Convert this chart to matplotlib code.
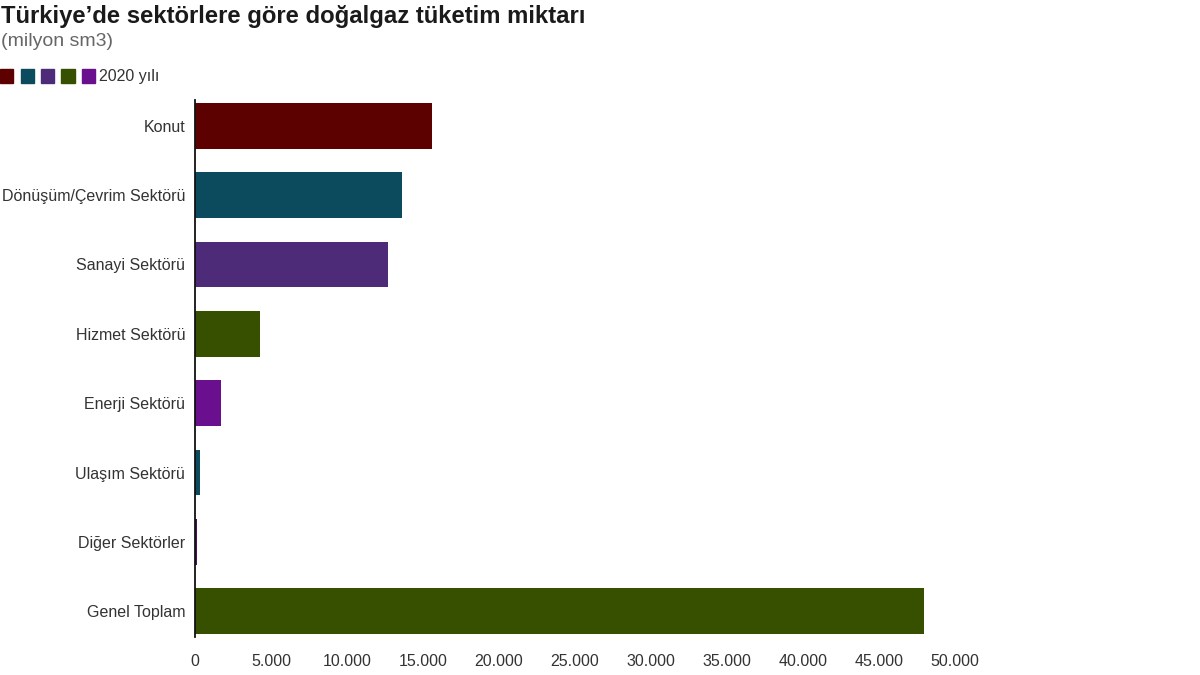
import matplotlib
matplotlib.use("Agg")
import matplotlib.pyplot as plt
from matplotlib.patches import Rectangle
from matplotlib.ticker import FuncFormatter

plt.rcParams['font.family'] = ['Liberation Sans', 'DejaVu Sans']

categories = ["Konut", "Dönüşüm/Çevrim Sektörü", "Sanayi Sektörü", "Hizmet Sektörü",
              "Enerji Sektörü", "Ulaşım Sektörü", "Diğer Sektörler", "Genel Toplam"]
values = [15560, 13620, 12700, 4300, 1690, 330, 160, 47960]
bar_colors = ["#5c0000", "#0c4a5e", "#4e2b78", "#365000", "#6a0f8e", "#0c4a5e", "#4a0e5e", "#365000"]
legend_colors = ["#5c0000", "#0c4a5e", "#4e2b78", "#365000", "#6a0f8e"]
legend_label = "2020 yılı"
xticks = [0, 5000, 10000, 15000, 20000, 25000, 30000, 35000, 40000, 45000, 50000]

W, H = 1200, 675
fig = plt.figure(figsize=(12, 6.75), dpi=100)
ax = fig.add_axes([195 / W, 1 - 637 / H, 760 / W, 537 / H])

ypos = list(range(len(categories)))
ax.barh(ypos, values, height=0.66, color=bar_colors)
ax.set_yticks(ypos)
ax.set_yticklabels(categories)
ax.set_ylim(len(categories) - 1 + 0.37, -0.37)
ax.set_xlim(0, 50000)
ax.set_xticks(xticks)
ax.xaxis.set_major_formatter(FuncFormatter(lambda v, p: "0" if v == 0 else f"{int(v):,}".replace(",", ".")))

for s in ["top", "right", "bottom"]:
    ax.spines[s].set_visible(False)
ax.spines["left"].set_color("#111111")
ax.spines["left"].set_linewidth(1.3)
ax.tick_params(axis="both", length=0, labelsize=11.5, colors="#333333")
ax.tick_params(axis="y", pad=7)
ax.tick_params(axis="x", pad=12)

fig.text(1 / W, 1 - 17 / H, "Türkiye’de sektörlere göre doğalgaz tüketim miktarı",
         fontsize=17.2, fontweight="bold", color="#1a1a1a", va="center", ha="left")
fig.text(1 / W, 1 - 42 / H, "(milyon sm3)", fontsize=14, color="#666666", va="center", ha="left")

sq = 13
for i, c in enumerate(legend_colors):
    x0 = 0 + i * 20.5
    fig.patches.append(Rectangle((x0 / W, 1 - (76 + sq / 2) / H), sq / W, sq / H,
                                 transform=fig.transFigure, color=c, figure=fig))
fig.text(99 / W, 1 - 77 / H, legend_label, fontsize=11.5, color="#333333", va="center", ha="left")

fig.savefig("out.png", dpi=100)
